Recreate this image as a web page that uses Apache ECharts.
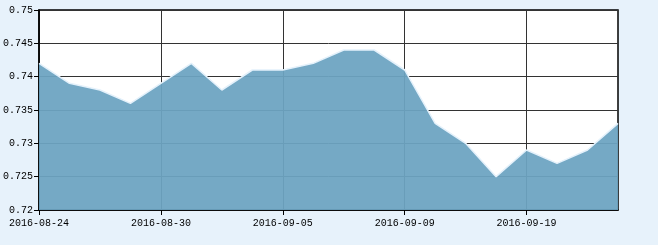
<!DOCTYPE html>
<html><head><meta charset="utf-8">
<script src="https://cdn.jsdelivr.net/npm/echarts@6/dist/echarts.min.js"></script>
<style>html,body{margin:0;padding:0;background:#e7f2fb;}#c{width:658px;height:245px;}</style>
</head><body><div id="c"></div>
<script>
const categories = ['2016-08-24','2016-08-25','2016-08-26','2016-08-29','2016-08-30','2016-08-31','2016-09-01','2016-09-02','2016-09-05','2016-09-06','2016-09-07','2016-09-08','2016-09-09','2016-09-12','2016-09-13','2016-09-14','2016-09-19','2016-09-20','2016-09-21','2016-09-22'];
const values = [0.742,0.739,0.738,0.736,0.739,0.742,0.738,0.741,0.741,0.742,0.744,0.744,0.741,0.733,0.730,0.725,0.729,0.727,0.729,0.733];
const yMin = 0.72, yMax = 0.75, yStep = 0.005;
const font = {fontFamily:'Liberation Mono', fontSize:10, color:'#000'};
const chart = echarts.init(document.getElementById('c'));
chart.setOption({
  backgroundColor:'#e7f2fb',
  animation:false,
  grid:{left:38, right:40, top:10, bottom:35, show:true, backgroundColor:'#fff', borderColor:'#000', borderWidth:1.5},
  xAxis:{type:'category', data:categories, boundaryGap:false,
    axisLine:{lineStyle:{color:'#000', width:1.5}},
    axisTick:{show:true, interval:3, length:5, lineStyle:{color:'#000'}},
    axisLabel:Object.assign({interval:3, margin:8}, font),
    splitLine:{show:true, interval:3, lineStyle:{color:'#333', width:1}}},
  yAxis:{type:'value', min:yMin, max:yMax, interval:yStep,
    axisLine:{show:true, lineStyle:{color:'#000', width:1.5}},
    axisTick:{show:true, length:5, lineStyle:{color:'#000'}},
    axisLabel:Object.assign({margin:6}, font),
    splitLine:{show:true, lineStyle:{color:'#333', width:1}}},
  series:[{type:'line', data:values, symbol:'none',
    lineStyle:{color:'#e4f1fb', width:1.5},
    areaStyle:{color:'rgb(108,164,193)', opacity:0.94}}]
});
</script></body></html>
